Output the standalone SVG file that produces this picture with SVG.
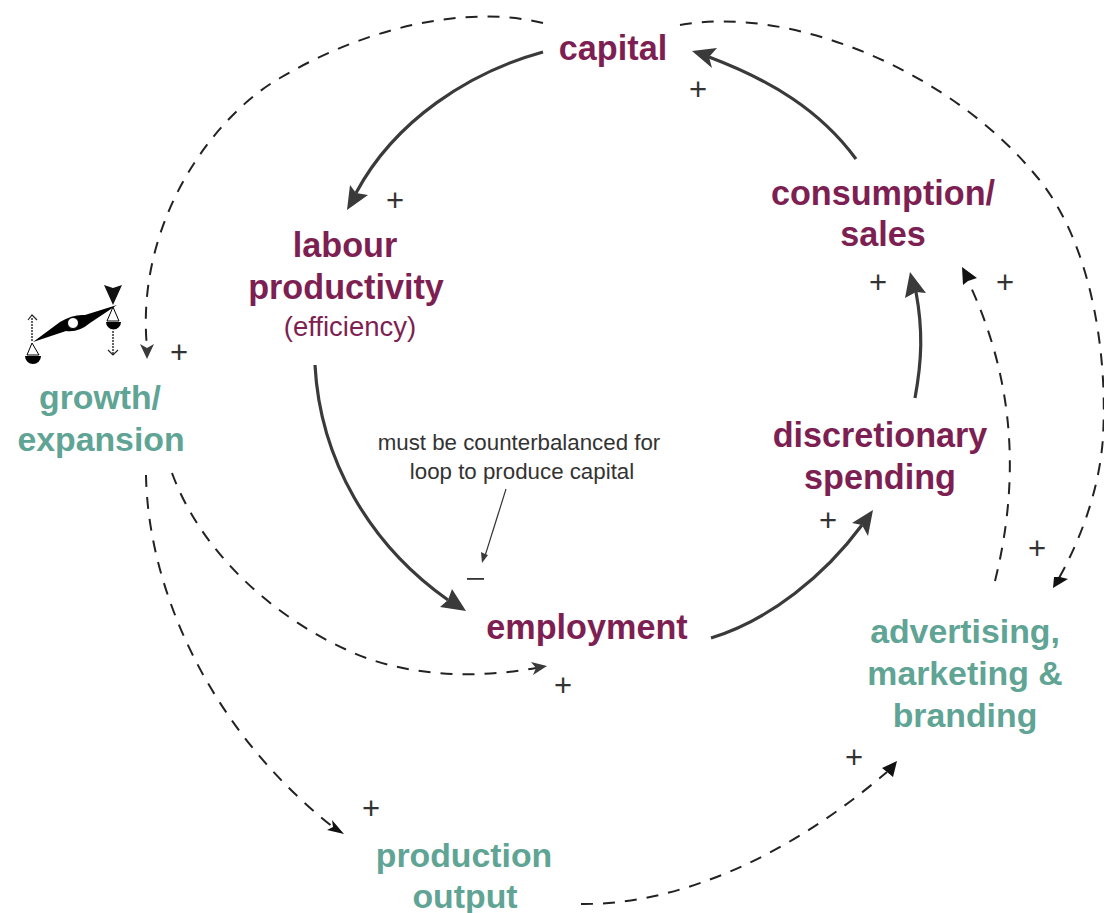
<svg xmlns="http://www.w3.org/2000/svg" width="1104" height="913" viewBox="0 0 1104 913">
<style>
text{font-family:"Liberation Sans",Arial,sans-serif;text-anchor:middle}
.m{fill:#7d1f52;font-weight:700;font-size:34.2px}
.t{fill:#5fa494;font-weight:700;font-size:33.8px}
.p{fill:#333;font-size:31px;font-weight:400}
.n{fill:#333;font-size:22.3px}
.s{fill:none;stroke:#3a3a3a;stroke-width:3.2}
.d{fill:none;stroke:#222;stroke-width:2;stroke-dasharray:12 10}
.h{fill:#3a3a3a;stroke:none}
.k{fill:#111;stroke:none}
</style>
<defs/>
<rect width="1104" height="913" fill="#fff"/>
<g id="connectors">
<path class="s" d="M543 52C470 72 395 120 356 193"/>
<polygon class="h" points="347,210 350,185 356,193 368,195"/>
<path class="s" d="M856 159C820 110 770 80 709 57"/>
<polygon class="h" points="692,51 717,48 709,57 712,68"/>
<path class="s" d="M315 365C320 460 370 545 448 600"/>
<polygon class="h" points="466,611 440,607 448,600 452,589"/>
<path class="s" d="M711 638C770 620 825 575 862 525"/>
<polygon class="h" points="873,510 868,536 862,525 852,523"/>
<path class="s" d="M915 398C922 360 923 330 916 292"/>
<polygon class="h" points="910,272 926,293 916,292 905,298"/>
<path class="d" d="M543 23C470 5 370 25 280 78C215 115 135 220 147 348"/>
<polygon class="h" points="147,359 140,344 147,348 154,344"/>
<path class="d" d="M680 25C790 5 950 70 1037 177C1090 240 1108 350 1103 437C1100 485 1083 535 1059 578"/>
<polygon class="k" points="1053,588 1054,577 1060,577 1068,579"/>
<path class="d" d="M172 473C200 550 270 615 347 650C400 675 470 680 536 668"/>
<polygon class="h" points="547,666 531,662 536,668 533,675"/>
<path class="d" d="M146 475C148 590 210 730 333 827"/>
<polygon class="k" points="344,834 327,830 333,827 332,820"/>
<path class="d" d="M995 581C1020 480 1015 380 968 281"/>
<polygon class="k" points="962,267 977,278 968,281 963,285"/>
<path class="d" d="M581 904C680 905 790 855 887 772"/>
<polygon class="k" points="897,761 893,777 887,772 882,768"/>
<path fill="none" stroke="#333" stroke-width="1.2" d="M506 489L485 556"/>
<polygon class="h" points="482,563 481,552 485,554 488,555"/>
</g>
<g id="capital"><text class="m" x="613" y="60">capital</text></g>
<g id="labour"><text class="m" x="345" y="257">labour</text><text class="m" x="346" y="298.500">productivity</text><text x="350" y="336" font-size="27.500" fill="#7d1f52">(efficiency)</text></g>
<g id="consumption"><text class="m" x="883" y="204.500">consumption/</text><text class="m" x="883" y="246">sales</text></g>
<g id="discretionary"><text class="m" x="880" y="446.500">discretionary</text><text class="m" x="880" y="488.500">spending</text></g>
<g id="employment"><text class="m" x="587" y="638.500">employment</text></g>
<g id="growth"><text class="t" x="100" y="408.500">growth/</text><text class="t" x="101" y="450.500">expansion</text></g>
<g id="advertising"><text class="t" x="965" y="642.500">advertising,</text><text class="t" x="965" y="684.500">marketing &amp;</text><text class="t" x="965" y="726.500">branding</text></g>
<g id="production"><text class="t" x="464" y="867">production</text><text class="t" x="465" y="908">output</text></g>
<g id="note"><text class="n" x="519" y="450">must be counterbalanced for</text><text class="n" x="522" y="479">loop to produce capital</text></g>
<g id="signs">
<text class="p" x="698" y="100">+</text><text class="p" x="395" y="211">+</text><text class="p" x="179" y="363">+</text><text class="p" x="878" y="293">+</text><text class="p" x="1005" y="293">+</text><text class="p" x="828" y="531">+</text><text class="p" x="1037" y="559">+</text><text class="p" x="563" y="696">+</text><text class="p" x="854" y="768">+</text><text class="p" x="371" y="819">+</text>
<rect x="467" y="578" width="17" height="1.800" fill="#333"/>
</g>
<g id="scale">
<path d="M33 342L60 322Q73 314 85 315L117 305L90 323Q78 333 66 331Z" fill="#000"/>
<circle cx="73" cy="323" r="5.500" fill="#fff" stroke="#000" stroke-width="1"/>
<polygon points="104,285 113,288 122,285 113,305" fill="#111"/>
<path d="M32 343L27 355H39ZM113 307L107 321H119Z" fill="none" stroke="#000" stroke-width="1"/>
<path d="M25 356H41A8 8 0 0 1 25 356ZM106 322H121A7.500 7.500 0 0 1 106 322Z" fill="#000"/>
<path d="M32 341V317M113 331V354" fill="none" stroke="#222" stroke-width="1.400" stroke-dasharray="2 1"/>
<path d="M28 320L32 315L37 320M108 350L113 355L118 350" fill="none" stroke="#222" stroke-width="1.200"/>
</g>
</svg>
